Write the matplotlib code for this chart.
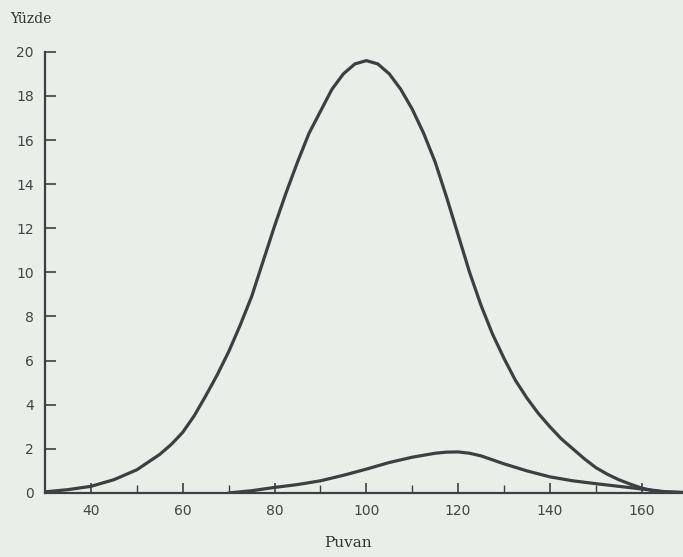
import numpy as np
import matplotlib
matplotlib.use('Agg')
import matplotlib.pyplot as plt

# big curve (all scores)
x_all = [30, 35, 40, 45, 50, 55, 57.5, 60, 62.5, 65, 67.5, 70, 72.5, 75, 77.5, 80, 82.5, 85,
         87.5, 90, 92.5, 95, 97.5, 100, 102.5, 105, 107.5, 110, 112.5, 115, 117.5,
         120, 122.5, 125, 127.5, 130, 132.5, 135, 137.5, 140, 142.5, 145, 147.5,
         150, 152.5, 155, 157.5, 160, 162.5, 165, 169]
y_all = [0.05, 0.15, 0.3, 0.6, 1.05, 1.75, 2.2, 2.75, 3.5, 4.4, 5.35, 6.4, 7.6, 8.9, 10.5, 12.1, 13.6, 15.0,
         16.3, 17.3, 18.3, 19.0, 19.45, 19.6, 19.45, 19.0, 18.3, 17.4, 16.3, 15.0, 13.4,
         11.7, 10.0, 8.5, 7.2, 6.1, 5.1, 4.3, 3.6, 3.0, 2.45, 2.0, 1.55,
         1.15, 0.85, 0.6, 0.4, 0.22, 0.1, 0.04, 0.02]

# small curve
x_small = [70, 75, 80, 85, 90, 95, 100, 105, 110, 115, 117.5, 120, 122.5, 125, 130,
           135, 140, 145, 150, 155, 160, 165, 169]
y_small = [0.0, 0.1, 0.25, 0.38, 0.55, 0.8, 1.08, 1.38, 1.62, 1.8, 1.85, 1.86, 1.8, 1.68, 1.32,
           1.0, 0.73, 0.55, 0.42, 0.3, 0.18, 0.06, 0.02]

xticks = [40, 60, 80, 100, 120, 140, 160]
yticks = list(range(0, 21, 2))

bg = '#e8eee8'
ink = '#3b4142'

fig = plt.figure(figsize=[6.83, 5.57], dpi=100)
fig.patch.set_facecolor(bg)
ax = fig.add_axes([0.066, 0.115, 0.934, 0.792])
ax.set_facecolor(bg)

ax.plot(x_all, y_all, color=ink, lw=2.3, solid_capstyle='round', solid_joinstyle='round')
ax.plot(x_small, y_small, color=ink, lw=2.3, solid_capstyle='round', solid_joinstyle='round')

ax.set_xlim(30, 169)
ax.set_ylim(0, 20)
for s in ['top', 'right']:
    ax.spines[s].set_visible(False)
for s in ['left', 'bottom']:
    ax.spines[s].set_color(ink)
    ax.spines[s].set_linewidth(1.6)

ax.set_xticks(xticks)
ax.set_xticks([50, 70, 90, 110, 130, 150], minor=True)
ax.set_yticks(yticks)
ax.tick_params(axis='x', direction='in', length=7, width=1.2, color=ink,
               labelsize=10, labelcolor='#444', pad=8)
ax.tick_params(axis='x', which='minor', direction='in', length=6, width=1.0, color=ink)
ax.tick_params(axis='y', direction='in', length=8, width=1.2, color=ink,
               labelsize=10, labelcolor='#444', pad=8)

fig.text(0.015, 0.965, 'Yüzde', fontsize=10, family='DejaVu Serif', color='#333', va='center')
fig.text(0.51, 0.025, 'Puvan', fontsize=11, family='DejaVu Serif', color='#333', ha='center', va='center')

plt.savefig('out.png', dpi=100, facecolor=bg)
